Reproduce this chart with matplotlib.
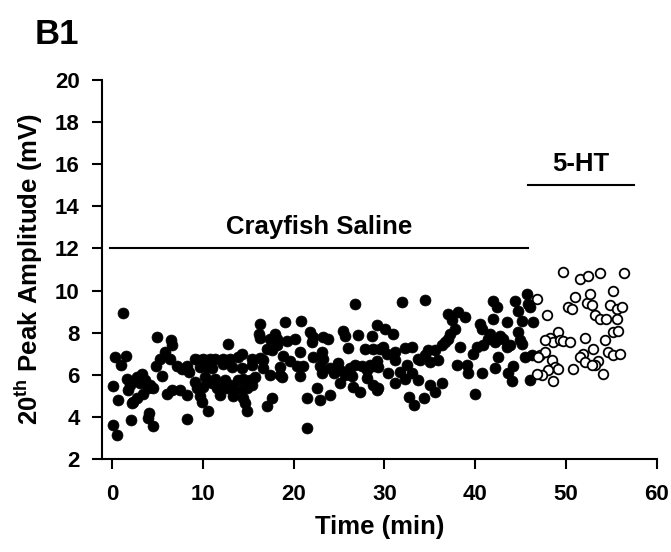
import matplotlib
matplotlib.use("Agg")
import matplotlib.pyplot as plt

plt.rcParams['font.family'] = ['Liberation Sans', 'DejaVu Sans']
plt.rcParams['font.weight'] = 'bold'
plt.rcParams['mathtext.fontset'] = 'custom'
plt.rcParams['mathtext.rm'] = 'Liberation Sans:bold'
plt.rcParams['mathtext.it'] = 'Liberation Sans:bold'
plt.rcParams['mathtext.bf'] = 'Liberation Sans:bold'

# Recordings in crayfish saline (filled markers)
saline_time = [
    1.25, 4.99, 6.46, 6.64, 0.33, 1.54, 0.95, 5.84, 5.29, 6.39, 4.85, 5.47, 7.12, 7.67, 8.3, 8.52,
    9.14, 9.5, 9.7, 3.27, 2.72, 1.62, 3.63, 4.19, 4.0, 1.98, 1.8, 3.08, 3.45, 4.55, 6.02, 6.57,
    7.48, 8.22, 0.07, 0.7, 2.35, 2.17, 2.72, 0.15, 0.51, 2.06, 4.11, 4.0, 4.48, 8.3,
    16.3, 16.16, 16.3, 17.95, 17.4, 18.21, 12.81, 17.03, 18.14, 17.58,
    10.06, 10.79, 11.35, 12.26, 13.0, 13.91, 14.28, 15.38, 16.3, 16.6,
    10.43, 10.98, 12.26, 13.18, 14.28, 15.38, 16.67, 17.4, 18.5,
    10.24, 11.35, 12.44, 13.0, 13.91, 14.46, 15.2, 15.75, 9.14,
    9.33, 10.06, 10.98, 11.53, 12.07, 12.63, 13.36, 14.28, 14.83, 15.38,
    9.69, 11.89, 13.36, 14.46, 9.88, 17.59, 17.03, 14.6, 14.83, 10.61,
    26.76, 19.05, 20.78, 21.8, 22.17, 21.99, 23.28, 23.83, 25.47, 25.66, 27.1, 28.6,
    19.24, 20.15, 20.7, 22.17, 23.28, 23.1, 26.03, 27.86, 28.77, 29.5,
    18.87, 19.6, 20.34, 21.07, 20.7, 18.5, 18.69,
    22.9, 23.1, 24.0, 24.4, 24.93, 25.1, 25.66, 26.2, 26.76, 26.39, 27.5, 28.05, 28.4, 28.77, 29.15,
    25.1, 26.57, 27.31, 28.05, 28.77, 29.15, 21.44, 22.54, 22.9, 24.0, 21.51,
    31.9, 34.47, 37.04, 38.14, 38.87, 37.4, 37.77, 37.22, 37.04, 29.15, 30.07, 30.98,
    29.88, 30.25, 31.16, 32.27, 33.0, 33.73, 34.47, 34.83, 35.57, 36.3, 36.67, 38.32,
    29.33, 30.43, 31.16, 31.71, 32.45, 33.0, 33.92, 35.02, 35.94, 37.96, 39.06, 39.24,
    29.33, 31.16, 32.27, 33.73, 35.02, 35.57, 36.3, 32.69, 33.24, 34.34,
    42.0, 42.36, 44.38, 44.75, 45.66, 45.85, 46.03, 42.0, 43.47, 45.1, 46.4,
    40.53, 40.71, 41.63, 41.45, 42.73, 43.1, 43.83, 44.75, 44.93, 45.1,
    40.16, 40.9, 42.18, 43.47, 39.8, 42.55, 45.48, 46.2,
    40.71, 42.18, 44.2, 43.65, 44.02, 46.03, 40.0,
]
saline_amp = [
    8.93, 7.79, 7.67, 7.42, 6.84, 6.88, 6.45, 7.08, 6.73, 6.73, 6.41, 5.95, 6.41, 6.28, 6.44, 6.13,
    6.76, 6.68, 6.36, 6.06, 5.9, 5.82, 5.74, 5.5, 5.35, 5.5, 5.27, 5.59, 5.11, 5.35, 5.11, 5.27,
    5.27, 5.04, 5.47, 4.8, 4.73, 4.65, 4.88, 3.62, 3.15, 3.85, 4.17, 3.93, 3.58, 3.9,
    8.42, 7.94, 7.73, 7.94, 7.71, 7.71, 7.47, 7.24, 7.39, 7.16,
    6.77, 6.77, 6.74, 6.77, 6.77, 6.85, 7.0, 6.77, 6.8, 6.7,
    6.37, 6.3, 6.53, 6.37, 6.3, 6.45, 6.3, 6.0, 5.98,
    5.9, 5.82, 5.74, 5.5, 5.74, 5.82, 5.74, 5.9, 5.66,
    5.35, 5.43, 5.59, 5.35, 5.43, 5.35, 5.35, 5.27, 5.35, 5.5,
    4.98, 5.04, 4.98, 4.9, 4.73, 4.9, 4.5, 4.65, 4.26, 4.26,
    9.36, 8.52, 8.56, 8.02, 7.79, 7.56, 7.79, 7.71, 8.06, 7.83, 7.9, 7.83,
    7.62, 7.71, 7.08, 6.85, 6.77, 7.08, 7.27, 7.23, 7.23, 7.23,
    6.87, 6.64, 6.4, 6.4, 5.93, 6.37, 5.9,
    6.4, 6.08, 6.32, 6.08, 6.56, 6.24, 6.0, 6.32, 6.48, 5.93, 6.4, 6.24, 6.48, 6.4, 6.64,
    5.59, 5.43, 5.19, 5.83, 5.51, 5.27, 4.88, 5.35, 4.8, 5.06, 3.46,
    9.47, 9.56, 8.89, 8.97, 8.73, 8.58, 8.18, 7.94, 7.71, 8.34, 8.18, 7.94,
    7.32, 7.0, 7.08, 7.27, 7.32, 6.77, 6.92, 7.16, 7.16, 7.39, 7.55, 7.32,
    6.38, 6.07, 6.7, 6.15, 6.46, 6.07, 6.7, 6.62, 6.7, 6.46, 6.46, 6.07,
    5.35, 5.59, 5.82, 5.74, 5.51, 5.19, 5.59, 4.96, 4.57, 4.88,
    9.52, 9.2, 9.52, 9.04, 9.83, 9.36, 9.2, 8.65, 8.49, 8.57, 8.49,
    8.41, 8.18, 7.94, 7.71, 7.86, 7.71, 7.39, 8.02, 7.63, 7.47,
    7.31, 7.39, 7.55, 7.31, 7.0, 6.84, 6.84, 6.92,
    6.09, 6.32, 6.4, 6.09, 5.69, 5.74, 5.1,
]

# Recordings after 5-HT application (open markers)
ht_time = [
    49.7, 51.5, 52.45, 53.74, 56.4, 46.8,
    50.99, 50.25, 50.62, 52.27, 52.64, 52.82,
    54.85, 55.21, 55.58, 56.13, 53.19, 53.74, 54.4, 55.58, 55.21, 55.77, 47.95,
    49.15, 48.24, 48.6, 47.69, 49.34, 49.7, 50.43, 52.09, 54.29, 53.0, 51.9, 51.5, 52.09,
    53.55, 54.66, 55.21, 55.95, 54.1, 53.19, 52.82,
    47.14, 47.69, 48.43, 48.79, 49.15, 48.06, 47.33, 48.54, 50.8, 46.94, 46.77,
]
ht_amp = [
    10.88, 10.57, 10.7, 10.85, 10.85, 9.6,
    9.67, 9.2, 9.12, 9.4, 9.83, 9.31,
    9.31, 9.99, 9.12, 9.2, 8.84, 8.65, 8.65, 8.65, 8.05, 8.1, 8.84,
    8.05, 7.74, 7.55, 7.63, 7.63, 7.58, 7.55, 7.74, 7.67, 7.23, 7.0, 6.84, 6.6,
    6.67, 7.1, 6.95, 7.0, 6.05, 6.45, 6.48,
    6.92, 7.08, 6.69, 6.37, 6.29, 6.21, 6.0, 5.69, 6.29, 6.84, 6.05,
]

# Treatment bars: (label, start, end, level)
saline_bar = ("Crayfish Saline", -0.2, 45.8, 12.0)
ht_bar = ("5-HT", 45.8, 57.5, 15.0)

y_ticks = [2, 4, 6, 8, 10, 12, 14, 16, 18, 20]
x_ticks = [0, 10, 20, 30, 40, 50, 60]

fig = plt.figure(figsize=(6.71, 5.52), dpi=100)
ax = fig.add_axes([0.152, 0.1685, 0.827, 0.6866])

ax.scatter(saline_time, saline_amp, s=62, c='black', edgecolors='black',
           linewidths=0.5, zorder=3)
ax.scatter(ht_time, ht_amp, s=48, facecolors='white', edgecolors='black',
           linewidths=1.3, zorder=3)

for label, x0, x1, lvl in (saline_bar, ht_bar):
    ax.plot([x0, x1], [lvl, lvl], color='black', lw=1.5)
    ax.text((x0 + x1) / 2, lvl + 0.7, label, ha='center', va='baseline',
            fontsize=18.5, fontweight='bold')

ax.set_xlim(-1.1, 60)
ax.set_ylim(2, 20)
ax.set_xticks(x_ticks)
ax.set_yticks(y_ticks)
ax.tick_params(axis='both', labelsize=16, width=1.5, length=7, direction='out')
ax.tick_params(axis='x', pad=11)
ax.tick_params(axis='y', pad=9)
for lbl in ax.get_xticklabels() + ax.get_yticklabels():
    lbl.set_fontweight('bold')
for side in ('top', 'right'):
    ax.spines[side].set_visible(False)
for side in ('left', 'bottom'):
    ax.spines[side].set_linewidth(1.5)

ax.set_xlabel("Time (min)", fontsize=18.5, fontweight='bold')
ax.xaxis.set_label_coords(0.5, -0.148)
ax.set_ylabel("20$^{\\mathrm{th}}$ Peak Amplitude (mV)", fontsize=18.5, fontweight='bold')
ax.yaxis.set_label_coords(-0.103, 0.5)

fig.text(0.052, 0.938, "B1", fontsize=25, fontweight='bold', ha='left', va='center')

fig.savefig("out.png", dpi=100)
